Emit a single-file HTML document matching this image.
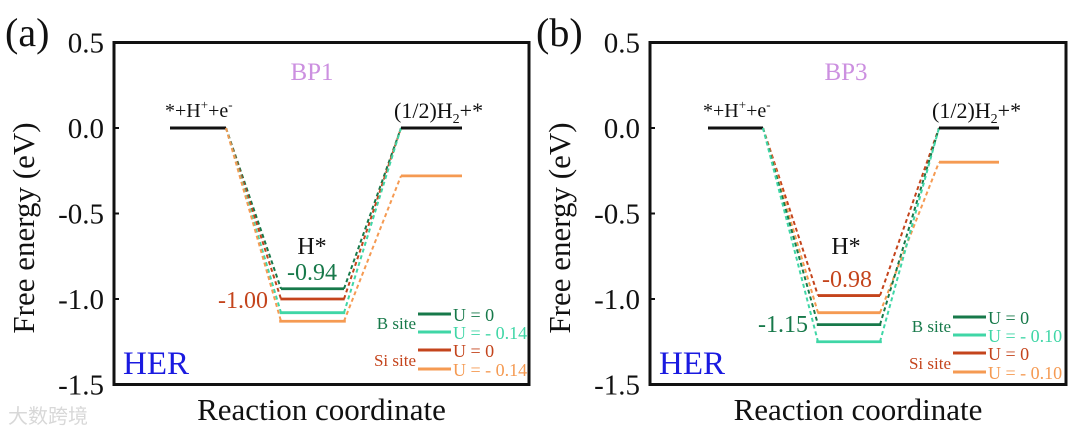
<!DOCTYPE html>
<html><head><meta charset="utf-8"><style>
html,body{margin:0;padding:0;background:#fff;}
svg{display:block;}
</style></head><body>
<svg id="fig" width="1080" height="438" viewBox="0 0 1080 438" xmlns="http://www.w3.org/2000/svg"></svg>
<script>
const yTicks = [0.5, 0.0, -0.5, -1.0, -1.5];
const tickLabels = ["0.5", "0.0", "-0.5", "-1.0", "-1.5"];
const steps = ["initial", "hstar", "final"];
// panel a series: [initial, H*, final]
const aBU0 = [0, -0.94, 0];
const aSiU0 = [0, -1.00, 0];
const aBU14 = [0, -1.08, 0];
const aSiU14 = [0, -1.13, -0.28];
// panel b series
const bBU0 = [0, -1.15, 0];
const bSiU0 = [0, -0.98, 0];
const bBU10 = [0, -1.25, 0];
const bSiU10 = [0, -1.08, -0.20];

const NS = "http://www.w3.org/2000/svg";
const svg = document.getElementById("fig");
const SERIF = "font-family:'Liberation Serif','Times New Roman','DejaVu Serif',serif;";
function mk(tag, attrs, parent, text) {
  const e = document.createElementNS(NS, tag);
  if (tag === "text") e.setAttribute("style", SERIF);
  for (const k in attrs) e.setAttribute(k, attrs[k]);
  if (text !== undefined) e.textContent = text;
  (parent || svg).appendChild(e);
  return e;
}
const C = {bd:"#17794a", bl:"#3fd6a6", sd:"#c4441c", sl:"#f59a52"};
function yScale(v){ return 128 - v*171; }

function panel(p){
  const g = mk("g", {});
  
  
  const t = mk("text", {x:p.lx, y:46, "font-size":40, fill:"#111"}, g, "(" + p.id + ")");
  
  
  const box = mk("rect", {x:p.x0, y:yScale(0.5), width:p.x1-p.x0, height:yScale(-1.5)-yScale(0.5), fill:"none", stroke:"#111", "stroke-width":3}, g);
  
  
  yTicks.forEach((v,i)=>{
    const y = yScale(v);
    const tk = mk("line", {x1:p.x0, x2:p.x0+5, y1:y, y2:y, stroke:"#111", "stroke-width":2}, g);
    
    
    const tl = mk("text", {x:p.x0-10, y:y+10, "font-size":29, "text-anchor":"end", fill:"#111"}, g, tickLabels[i]);
    
    
  });
  const yt = mk("text", {x:0, y:0, "font-size":31, "text-anchor":"middle", fill:"#111", transform:"translate(" + (p.x0-80) + ",228) rotate(-90)"}, g, "Free energy (eV)");
  
  
  const xt = mk("text", {x:(p.x0+p.x1)/2, y:420, "font-size":31, "text-anchor":"middle", fill:"#111"}, g, "Reaction coordinate");
  
  
  const bt = mk("text", {x:p.mid, y:80, "font-size":25, "text-anchor":"middle", fill:"#cc90e0"}, g, p.title);
  
  
  const her = mk("text", {x:p.x0+9, y:374, "font-size":33, fill:"#1a1ae0"}, g, "HER");
  
  

  p.series.forEach((s, si)=>{
    const sg = mk("g", {}, g);
    
    
    const segs = p.segs;
    for (let k=0;k<3;k++){
      const y = yScale(s.v[k]);
      const off = (k===1) ? si*0.6 : 0;
      const ln = mk("line", {x1:segs[k][0]-off, x2:segs[k][1]+off, y1:y, y2:y, stroke:(k!==1 && s.v[k]===0) ? "#111" : s.c, "stroke-width":2.8}, sg);
      
      
      if (k<2){
        const y2 = yScale(s.v[k+1]);
        const dl = mk("line", {x1:segs[k][1], y1:y, x2:segs[k+1][0], y2:y2, stroke:s.c, "stroke-width":2, "stroke-dasharray":"4,3"}, sg);
        
        
      }
    }
  });
  const l1 = mk("text", {x:p.segs[0][0]-5, y:117, "font-size":20, fill:"#111"}, g);
  
  
  l1.innerHTML = '*+H<tspan dy="-8" font-size="13">+</tspan><tspan dy="8">+e</tspan><tspan dy="-8" font-size="13">-</tspan>';
  const l2 = mk("text", {x:p.segs[2][0]-7, y:118, "font-size":22, fill:"#111"}, g);
  
  
  l2.innerHTML = '(1/2)H<tspan dy="5" font-size="14">2</tspan><tspan dy="-5">+*</tspan>';
  const hs = mk("text", {x:p.mid, y:254, "font-size":24, "text-anchor":"middle", fill:"#111"}, g, "H*");
  
  
  p.vals.forEach(v=>{
    const vt = mk("text", {x:v.x, y:v.y, "font-size":24, "text-anchor":v.a, fill:v.c}, g, v.t);
    
    
  });
  const lg = mk("g", {}, g);
  
  
  const L = p.leg;
  const rows = [[C.bd,"U = 0"],[C.bl,"U = - " + p.u],[C.sd,"U = 0"],[C.sl,"U = - " + p.u]];
  const ys = [L.y, L.y+18, L.y+36, L.y+55];
  rows.forEach((r,i)=>{
    const le = mk("line", {x1:L.lx, x2:L.lx+33, y1:ys[i], y2:ys[i], stroke:r[0], "stroke-width":3}, lg);
    
    
    const lt = mk("text", {x:L.lx+35, y:ys[i]+7, "font-size":18, fill:r[0]}, lg, r[1]);
    
    
  });
  const bs = mk("text", {x:L.lx-2, y:L.y+15, "font-size":17, "text-anchor":"end", fill:C.bd}, lg, "B site");
  
  
  const ss = mk("text", {x:L.lx-2, y:L.y+52, "font-size":17, "text-anchor":"end", fill:C.sd}, lg, "Si site");
  
  
}

panel({id:"a", lx:5, x0:114, x1:529, mid:312, title:"BP1", u:"0.14",
  segs:[[170,226],[281,344],[401,462]],
  series:[{name:"b-u0",c:C.bd,v:aBU0},{name:"si-u0",c:C.sd,v:aSiU0},{name:"b-u014",c:C.bl,v:aBU14},{name:"si-u014",c:C.sl,v:aSiU14}],
  vals:[{x:312,y:280,a:"middle",c:C.bd,t:"-0.94"},{x:268,y:308,a:"end",c:C.sd,t:"-1.00"}],
  leg:{lx:418,y:314}});
panel({id:"b", lx:536, x0:650, x1:1066, mid:846, title:"BP3", u:"0.10",
  segs:[[708,763],[818,880],[939,999]],
  series:[{name:"si-u0",c:C.sd,v:bSiU0},{name:"si-u010",c:C.sl,v:bSiU10},{name:"b-u0",c:C.bd,v:bBU0},{name:"b-u010",c:C.bl,v:bBU10}],
  vals:[{x:847,y:287,a:"middle",c:C.sd,t:"-0.98"},{x:808,y:332,a:"end",c:C.bd,t:"-1.15"}],
  leg:{lx:953,y:317}});

const wm = mk("text", {x:8, y:423, "font-size":20, fill:"#d8d8d8"}, svg, "大数跨境");
wm.setAttribute("style", "font-family:'Noto Sans CJK SC',sans-serif;");


</script>
</body></html>
